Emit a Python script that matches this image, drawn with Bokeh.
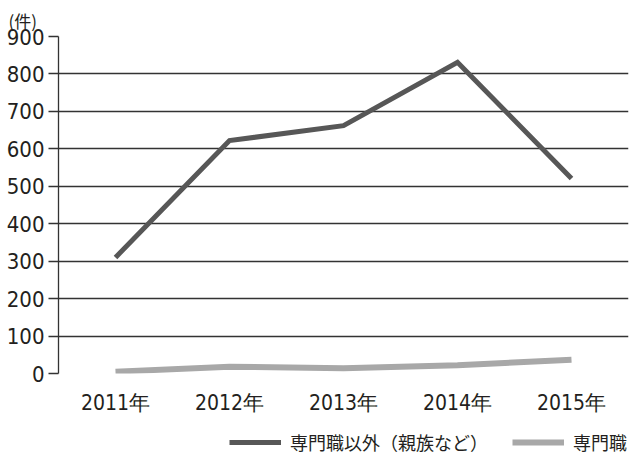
from bokeh.plotting import figure
from bokeh.layouts import column
from bokeh.models import Range1d, Legend, LegendItem, Title, ColumnDataSource, FixedTicker
from bokeh.embed import file_html
from bokeh.resources import INLINE

years = ["2011年", "2012年", "2013年", "2014年", "2015年"]
non_professional = [310, 622, 662, 831, 521]
professional = [5, 18, 14, 22, 37]
y_ticks = [0, 100, 200, 300, 400, 500, 600, 700, 800, 900]
series_names = ["専門職以外（親族など）", "専門職"]
unit_label = "(件)"

FONT = "DejaVu Sans Condensed"
CJK = "Noto Sans CJK JP"
INK = "#231f20"
DARK = "#575757"
LIGHT = "#a8a8a8"

p = figure(x_range=years, y_range=Range1d(0, 900), width=636, height=420,
           output_backend="svg", toolbar_location=None,
           min_border_left=58, min_border_right=8, min_border_top=36, min_border_bottom=47)
p.outline_line_color = None

src = ColumnDataSource(dict(x=years, a=non_professional, b=professional))
p.line("x", "a", source=src, line_color=DARK, line_width=5, line_join="miter")
p.line("x", "b", source=src, line_color=LIGHT, line_width=6)

p.xgrid.grid_line_color = None
p.ygrid.grid_line_color = "#333333"
p.ygrid.grid_line_width = 1.3
p.yaxis.ticker = FixedTicker(ticks=y_ticks)
p.yaxis.axis_line_color = "#333333"
p.yaxis.axis_line_width = 1.3
p.yaxis.major_tick_line_color = "#333333"
p.yaxis.major_tick_line_width = 1.3
p.yaxis.major_tick_out = 10
p.yaxis.major_tick_in = 0
p.yaxis.minor_tick_line_color = None
p.yaxis.major_label_text_font = FONT
p.yaxis.major_label_text_font_size = "22px"
p.yaxis.major_label_text_color = INK
p.yaxis.major_label_standoff = 4

p.xaxis.axis_line_color = None
p.xaxis.major_tick_line_color = None
p.xaxis.minor_tick_line_color = None
p.xaxis.major_label_text_font = FONT
p.xaxis.major_label_text_font_size = "21px"
p.xaxis.major_label_text_color = INK
p.xaxis.major_label_standoff = 11

p.add_layout(Title(text=unit_label, align="left", offset=-50, standoff=8,
                   text_font=CJK, text_font_size="17px", text_font_style="normal",
                   text_color=INK), "above")

# legend strip below the chart
q = figure(x_range=Range1d(0, 1), y_range=Range1d(0, 1), width=636, height=40,
           output_backend="svg", toolbar_location=None,
           min_border_left=0, min_border_right=0, min_border_top=0, min_border_bottom=0)
q.outline_line_color = None
q.axis.visible = False
q.grid.grid_line_color = None
offscreen = ColumnDataSource(dict(x=[5, 6], y=[5, 5]))
g1 = q.line("x", "y", source=offscreen, line_color=DARK, line_width=5)
g2 = q.line("x", "y", source=offscreen, line_color=LIGHT, line_width=6)
legend = Legend(items=[LegendItem(label=series_names[0], renderers=[g1]),
                       LegendItem(label=series_names[1], renderers=[g2])],
                orientation="horizontal", location=(171, 5),
                label_text_font=CJK, label_text_font_size="18px", label_text_color=INK,
                glyph_width=52, glyph_height=20, label_standoff=9, spacing=24,
                border_line_color=None, background_fill_alpha=0, padding=0, margin=0)
q.add_layout(legend, "center")

layout = column(p, q, spacing=0)
open("out.html", "w").write(file_html(layout, INLINE))
